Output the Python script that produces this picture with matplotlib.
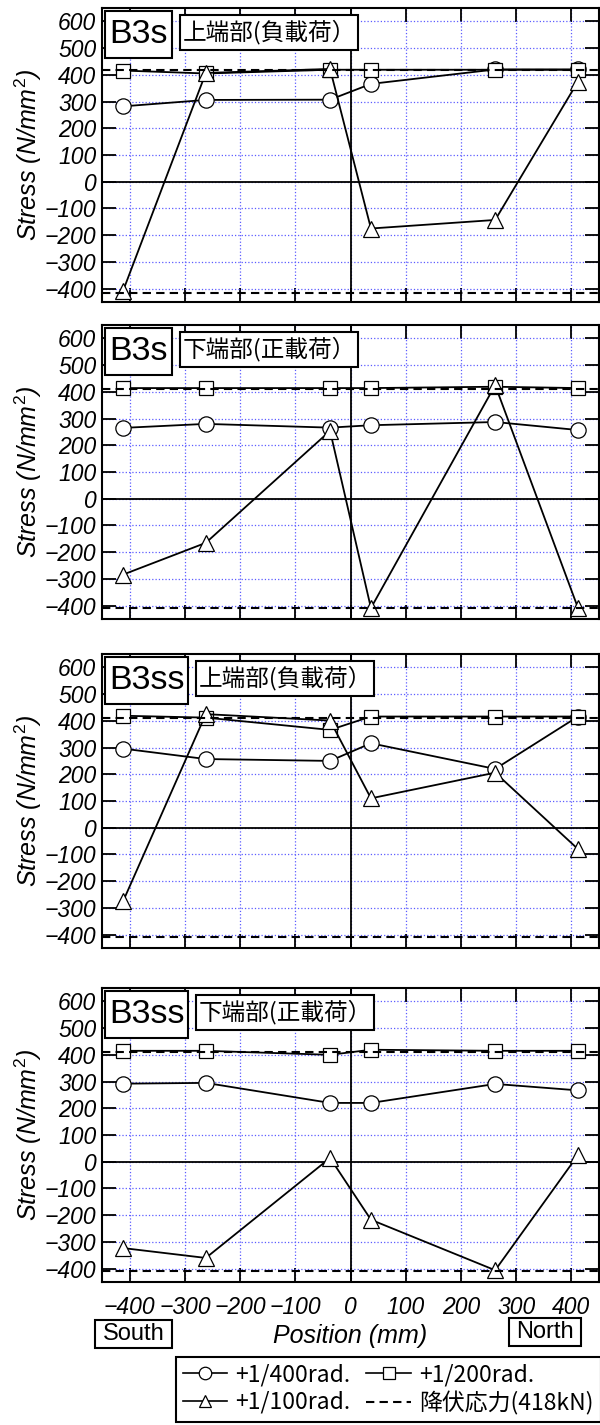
import matplotlib
matplotlib.use("Agg")
import matplotlib.pyplot as plt
from matplotlib.patches import Rectangle
from matplotlib.lines import Line2D

# ---------------- data ----------------
positions = [-412, -262, -37, 37, 262, 412]
x_ticks = [-400, -300, -200, -100, 0, 100, 200, 300, 400]
y_ticks = [-400, -300, -200, -100, 0, 100, 200, 300, 400, 500, 600]

specimens = ["B3s", "B3s", "B3ss", "B3ss"]
locations = ["上端部(負載荷）", "下端部(正載荷）", "上端部(負載荷）", "下端部(正載荷）"]

b3s_top_400 = [282, 306, 307, 366, 420, 420]
b3s_top_200 = [416, 405, 419, 419, 419, 419]
b3s_top_100 = [-409, 407, 422, -175, -143, 375]
b3s_top_yield = 418

b3s_bot_400 = [265, 280, 266, 275, 287, 257]
b3s_bot_200 = [414, 414, 414, 414, 419, 414]
b3s_bot_100 = [-284, -165, 254, -409, 425, -409]
b3s_bot_yield = 410

b3ss_top_400 = [296, 257, 250, 316, 220, 416]
b3ss_top_200 = [419, 412, 366, 416, 416, 416]
b3ss_top_100 = [-276, 425, 401, 110, 206, -80]
b3ss_top_yield = 410

b3ss_bot_400 = [292, 295, 220, 220, 291, 267]
b3ss_bot_200 = [415, 415, 400, 419, 415, 415]
b3ss_bot_100 = [-323, -360, 14, -217, -406, 25]
b3ss_bot_yield = 410

series_labels = ["+1/400rad.", "+1/200rad.", "+1/100rad.", "降伏応力(418kN)"]

panels = [
    (b3s_top_400, b3s_top_200, b3s_top_100, b3s_top_yield),
    (b3s_bot_400, b3s_bot_200, b3s_bot_100, b3s_bot_yield),
    (b3ss_top_400, b3ss_top_200, b3ss_top_100, b3ss_top_yield),
    (b3ss_bot_400, b3ss_bot_200, b3ss_bot_100, b3ss_bot_yield),
]

# ---------------- style ----------------
plt.rcParams["font.family"] = ["Liberation Sans", "DejaVu Sans"]
plt.rcParams["mathtext.fontset"] = "custom"
plt.rcParams["mathtext.rm"] = "Liberation Sans"
plt.rcParams["mathtext.it"] = "Liberation Sans:italic"

W, H = 600, 1425
fig = plt.figure(figsize=(W / 100, H / 100), dpi=100)

ax_left, ax_right = 102, 599
panel_tops = [8, 325, 654, 988]
panel_h = 294

grid_color = "#5c5cff"
dash_style = (0, (4, 2.5))
CJK = ["Noto Sans CJK JP", "DejaVu Sans"]


def fig_box(x0, y0, x1, y1, text, size, family):
    rect = Rectangle((x0 / W, 1 - y1 / H), (x1 - x0) / W, (y1 - y0) / H,
                     transform=fig.transFigure, fc="white", ec="black",
                     lw=1.5, zorder=20)
    fig.add_artist(rect)
    fig.text((x0 + x1) / 2 / W, 1 - (y0 + y1) / 2 / H, text, ha="center",
             va="center", fontsize=size, family=family, zorder=21)


axes = []
for i, (s400, s200, s100, yld) in enumerate(panels):
    top = panel_tops[i]
    ax = fig.add_axes([ax_left / W, 1 - (top + panel_h) / H,
                       (ax_right - ax_left) / W, panel_h / H])
    axes.append(ax)
    ax.set_xlim(-450, 450)
    ax.set_ylim(-450, 650)
    ax.set_xticks(x_ticks)
    ax.set_yticks(y_ticks)
    ax.set_axisbelow(True)
    ax.grid(True, color=grid_color, ls=":", lw=0.9)
    ax.axhline(0, color="black", lw=1.3, zorder=2)
    ax.axvline(0, color="black", lw=1.3, zorder=2)

    ax.plot(positions, s400, "-o", color="black", mfc="white", mec="black",
            ms=11, mew=0.9, lw=1.3, zorder=3)
    ax.plot(positions, s200, "-s", color="black", mfc="white", mec="black",
            ms=10.5, mew=0.9, lw=1.3, zorder=4)
    ax.plot(positions, s100, "-^", color="black", mfc="white", mec="black",
            ms=12, mew=0.9, lw=1.3, zorder=5)
    ax.axhline(yld, color="black", ls=dash_style, lw=1.5, zorder=6)
    ax.axhline(-yld, color="black", ls=dash_style, lw=1.5, zorder=6)

    for sp in ax.spines.values():
        sp.set_linewidth(1.5)
    ax.tick_params(direction="in", length=10, width=1.3, top=True, right=True,
                   labelsize=16.5, pad=4)
    for lab in ax.get_yticklabels():
        lab.set_fontstyle("italic")
    if i < 3:
        ax.tick_params(labelbottom=False)
    else:
        ax.tick_params(axis="x", pad=10)
        for lab in ax.get_xticklabels():
            lab.set_fontstyle("italic")
        ax.set_xlabel("Position (mm)", fontsize=18, fontstyle="italic",
                      labelpad=4)
    ax.set_ylabel("Stress (N/mm$^{\\mathrm{2}}$)", fontsize=18,
                  fontstyle="italic")
    ax.yaxis.set_label_coords(-0.117, 0.5)

    # specimen and location boxes
    bw = 67 if specimens[i] == "B3s" else 83
    bx0 = ax_left + 3
    fig_box(bx0, top + 3, bx0 + bw, top + 50, specimens[i], 24.5, ["Liberation Sans"])
    cx0 = bx0 + bw + 8
    fig_box(cx0, top + 7, cx0 + 178, top + 42, locations[i], 17, CJK)

# South / North boxes
fig_box(95, 1320, 172, 1348, "South", 17, ["Liberation Sans"])
fig_box(509, 1318, 581, 1346, "North", 17, ["Liberation Sans"])

# legend
handles = [
    Line2D([], [], color="black", marker="o", mfc="white", mec="black", ms=9, lw=1.2, mew=0.9),
    Line2D([], [], color="black", marker="^", mfc="white", mec="black", ms=9, lw=1.2, mew=0.9),
    Line2D([], [], color="black", marker="s", mfc="white", mec="black", ms=8.5, lw=1.2, mew=0.9),
    Line2D([], [], color="black", ls=dash_style, lw=1.5),
]
labels = [series_labels[0], series_labels[2], series_labels[1], series_labels[3]]
leg = fig.legend(handles, labels, ncol=2, loc="lower right",
                 bbox_to_anchor=(600.5 / W, 1 - 1422 / H),
                 prop={"family": CJK, "size": 16.5}, frameon=True, fancybox=False,
                 edgecolor="black", framealpha=1, handlelength=1.95,
                 handletextpad=0.35, columnspacing=0.7, borderpad=0.3,
                 labelspacing=0.2, borderaxespad=0)
leg.get_frame().set_linewidth(1.5)

fig.savefig("out.png", dpi=100)
